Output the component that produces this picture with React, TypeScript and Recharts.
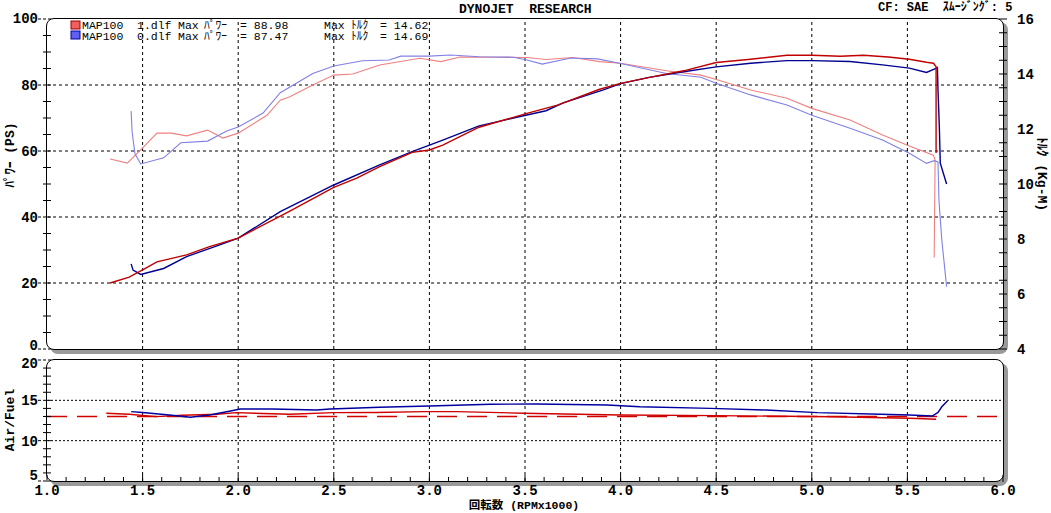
import React from "react";
import { LineChart, Line, XAxis, YAxis, ReferenceLine } from "recharts";

// ---- data (rpm x1000, value) ----
const redPower: [number, number][] = [
  [1.33, 20.0], [1.43, 21.8], [1.5, 24.0], [1.575, 26.4], [1.73, 28.5], [1.85, 31.0],
  [2.0, 33.6], [2.22, 40.3], [2.27, 41.8], [2.5, 49.0], [2.62, 51.8], [2.74, 55.3],
  [2.91, 59.6], [3.0, 60.3], [3.07, 61.8], [3.26, 67.2], [3.51, 71.4], [3.67, 73.9],
  [3.89, 78.7], [4.0, 80.5], [4.15, 82.3], [4.33, 84.3], [4.5, 86.8], [4.68, 87.8],
  [4.87, 89.0], [5.0, 89.0], [5.15, 88.7], [5.27, 89.0], [5.4, 88.5], [5.51, 87.8],
  [5.6, 86.9], [5.636, 86.6], [5.65, 85.6], [5.65, 59.4],
];

const bluePower: [number, number][] = [
  [1.44, 25.8], [1.45, 23.9], [1.49, 22.6], [1.61, 24.4], [1.73, 28.0], [1.9, 31.5],
  [2.0, 33.6], [2.22, 41.6], [2.5, 49.7], [2.74, 55.8], [2.91, 59.8], [3.07, 63.3],
  [3.26, 67.6], [3.51, 70.9], [3.61, 72.2], [3.7, 74.6], [3.91, 78.5], [4.0, 80.4],
  [4.15, 82.3], [4.33, 84.0], [4.5, 85.5], [4.68, 86.6], [4.87, 87.4], [5.0, 87.4],
  [5.2, 87.1], [5.37, 86.1], [5.51, 85.1], [5.6, 83.8], [5.64, 84.8], [5.657, 85.3],
  [5.66, 78.5], [5.667, 67.4], [5.672, 56.3], [5.705, 50.0],
];

const redTorque: [number, number][] = [
  [1.33, 10.91], [1.42, 10.76], [1.49, 11.24], [1.575, 11.85], [1.65, 11.85], [1.73, 11.75],
  [1.84, 11.96], [1.92, 11.67], [2.0, 11.85], [2.15, 12.5], [2.22, 13.05], [2.27, 13.17],
  [2.39, 13.6], [2.5, 13.96], [2.6, 14.0], [2.74, 14.33], [2.95, 14.57], [3.06, 14.45],
  [3.16, 14.62], [3.35, 14.61], [3.51, 14.6], [3.61, 14.53], [3.75, 14.6], [3.89, 14.45],
  [4.0, 14.39], [4.24, 14.12], [4.42, 13.96], [4.5, 13.8], [4.68, 13.42], [4.87, 13.12],
  [5.0, 12.75], [5.2, 12.33], [5.37, 11.78], [5.51, 11.38], [5.636, 11.05], [5.645, 10.87],
  [5.64, 7.33],
];

const blueTorque: [number, number][] = [
  [1.44, 12.65], [1.445, 11.9], [1.46, 11.1], [1.49, 10.73], [1.61, 10.95], [1.7, 11.5],
  [1.84, 11.56], [1.94, 11.93], [2.0, 12.07], [2.13, 12.58], [2.22, 13.32], [2.39, 14.02],
  [2.5, 14.29], [2.65, 14.48], [2.79, 14.51], [2.85, 14.65], [3.0, 14.65], [3.11, 14.69],
  [3.26, 14.63], [3.44, 14.61], [3.51, 14.51], [3.59, 14.36], [3.74, 14.58], [3.88, 14.55],
  [4.0, 14.38], [4.24, 14.02], [4.42, 13.88], [4.5, 13.66], [4.68, 13.24], [4.87, 12.87],
  [5.0, 12.5], [5.2, 12.03], [5.37, 11.6], [5.51, 11.12], [5.6, 10.75], [5.64, 10.85],
  [5.66, 10.8], [5.665, 9.4], [5.68, 7.96], [5.705, 6.27],
];

const redAirFuel: [number, number][] = [
  [1.31, 13.4], [1.43, 13.27], [1.57, 12.98], [1.71, 13.15], [1.89, 13.27], [1.99, 13.47],
  [2.27, 13.27], [2.5, 13.47], [2.72, 13.5], [2.97, 13.6], [3.14, 13.6], [3.37, 13.47],
  [3.49, 13.4], [4.0, 13.18], [4.5, 13.1], [5.11, 12.97], [5.51, 12.77], [5.55, 12.75],
  [5.65, 12.65],
];

const blueAirFuel: [number, number][] = [
  [1.44, 13.6], [1.5, 13.5], [1.64, 13.18], [1.75, 12.9], [1.85, 13.18], [1.96, 13.68],
  [2.01, 13.93], [2.18, 13.93], [2.41, 13.8], [2.48, 13.93], [2.74, 14.14], [3.0, 14.3],
  [3.32, 14.51], [3.56, 14.55], [3.93, 14.42], [4.1, 14.2], [4.47, 14.0], [4.76, 13.8],
  [5.03, 13.47], [5.36, 13.27], [5.51, 13.18], [5.63, 13.06], [5.66, 13.5], [5.68, 14.2],
  [5.71, 14.96],
];

const AF_TARGET = 13;

// ---- axes ----
const rpmGrid = [1.5, 2.0, 2.5, 3.0, 3.5, 4.0, 4.5, 5.0, 5.5];
const rpmLabels = [1.0, 1.5, 2.0, 2.5, 3.0, 3.5, 4.0, 4.5, 5.0, 5.5, 6.0];
const psGrid = [20, 40, 60, 80];
const psLabels = [0, 20, 40, 60, 80, 100];
const torqueLabels = [4, 6, 8, 10, 12, 14, 16];
const afGrid = [10, 15];
const afLabels = [5, 10, 15, 20];

const stepTicks = (from: number, to: number, step: number) => {
  const out: number[] = [];
  for (let v = from; v <= to + 1e-9; v += step) out.push(Math.round(v * 100) / 100);
  return out;
};
const psTicks = stepTicks(0, 100, 5);
const torqueTicks = stepTicks(4, 16, 0.5);
const afTicks = stepTicks(5, 20, 1);
const rpmTicks = stepTicks(1, 6, 0.1);

const toPts = (arr: [number, number][]) => arr.map(([rpm, v]) => ({ rpm, v }));

const MONO = '"Liberation Mono", "DejaVu Sans Mono", "Noto Sans CJK JP", monospace';
const LABEL_FONT = { fontFamily: MONO, fontWeight: 700, fontSize: 14, fill: "#000" } as const;

const has = (list: number[], v: number) => list.some((m) => Math.abs(m - v) < 1e-6);

// nudge keeps labels at the panel corners from running into each other
const leftTick = (majors: number[], nudge: Record<number, number> = {}) => (props: any) => {
  const { x, y, payload } = props;
  const major = has(majors, payload.value);
  const dy = nudge[payload.value] ?? 1;
  return (
    <g>
      {major ? (
        <line x1={x - 9} x2={x + 4} y1={y} y2={y} stroke="#000" strokeDasharray="3 2" />
      ) : (
        <line x1={x - 4} x2={x + 4} y1={y} y2={y} stroke="#000" />
      )}
      {major && (
        <text x={x - 9} y={y + dy} textAnchor="end" dominantBaseline="central" {...LABEL_FONT}>
          {payload.value}
        </text>
      )}
    </g>
  );
};

const rightTick = (majors: number[]) => (props: any) => {
  const { x, y, payload } = props;
  const major = has(majors, payload.value);
  return (
    <g>
      <line x1={x - 4} x2={x + 4} y1={y} y2={y} stroke="#000" />
      {major && (
        <text x={x + 14} y={y + 1} textAnchor="start" dominantBaseline="central" {...LABEL_FONT}>
          {payload.value}
        </text>
      )}
    </g>
  );
};

const bottomTick = (props: any) => {
  const { x, y, payload } = props;
  const major = has(rpmLabels, payload.value);
  return (
    <g>
      <line x1={x} x2={x} y1={y - (major ? 6 : 4)} y2={y + 1} stroke="#000" />
      {major && (
        <text x={x} y={y + 10} textAnchor="middle" dominantBaseline="central" {...LABEL_FONT}>
          {payload.value.toFixed(1)}
        </text>
      )}
    </g>
  );
};

const frame = (top: number, height: number): React.CSSProperties => ({
  position: "absolute",
  left: 46,
  top,
  width: 958,
  height,
  boxSizing: "border-box",
  border: "1px solid #000",
  borderRadius: 8,
  boxShadow: "4px 4px 0 #9a9a9a",
  background: "#fff",
});

const lineProps = { type: "linear" as const, dataKey: "v", dot: false, activeDot: false, isAnimationActive: false };
const pre: React.CSSProperties = { whiteSpace: "pre" };

export default function App() {
  return (
    <div style={{ position: "absolute", left: 0, top: 0, width: 1051, height: 513, background: "#fff", overflow: "hidden" }}>
      <div style={frame(18, 332)} />
      <div style={frame(359, 123)} />

      <div style={{ position: "absolute", left: 0, top: 0 }}>
        <LineChart width={1051} height={360} margin={{ top: 19, right: 8, bottom: 11, left: 7 }}>
          <XAxis type="number" dataKey="rpm" domain={[1, 6]} hide allowDataOverflow />
          <YAxis
            yAxisId="ps"
            type="number"
            domain={[0, 100]}
            ticks={psTicks}
            interval={0}
            width={40}
            axisLine={false}
            tickLine={false}
            tickSize={0}
            tickMargin={0}
            tick={leftTick(psLabels, { 0: -3, 100: 0 })}
          />
          <YAxis
            yAxisId="tq"
            orientation="right"
            type="number"
            domain={[4, 16]}
            ticks={torqueTicks}
            interval={0}
            width={40}
            axisLine={false}
            tickLine={false}
            tickSize={0}
            tickMargin={0}
            tick={rightTick(torqueLabels)}
          />
          {rpmGrid.map((r) => (
            <ReferenceLine key={`x${r}`} yAxisId="ps" x={r} stroke="#000" strokeDasharray="3 3" />
          ))}
          {psGrid.map((p) => (
            <ReferenceLine key={`y${p}`} yAxisId="ps" y={p} stroke="#000" strokeDasharray="3 3" />
          ))}
          <Line {...lineProps} yAxisId="tq" data={toPts(redTorque)} stroke="#f08080" strokeWidth={1.1} />
          <Line {...lineProps} yAxisId="tq" data={toPts(blueTorque)} stroke="#8080e6" strokeWidth={1.1} />
          <Line {...lineProps} yAxisId="ps" data={toPts(bluePower)} stroke="#000090" strokeWidth={1.4} />
          <Line {...lineProps} yAxisId="ps" data={toPts(redPower)} stroke="#c00000" strokeWidth={1.4} />
        </LineChart>
      </div>

      <div style={{ position: "absolute", left: 0, top: 350 }}>
        <LineChart width={1051} height={163} margin={{ top: 10, right: 48, bottom: 12, left: 7 }}>
          <XAxis
            type="number"
            dataKey="rpm"
            domain={[1, 6]}
            ticks={rpmTicks}
            interval={0}
            height={20}
            axisLine={false}
            tickLine={false}
            tickSize={0}
            tickMargin={0}
            tick={bottomTick}
            allowDataOverflow
          />
          <YAxis
            yAxisId="af"
            type="number"
            domain={[5, 20]}
            ticks={afTicks}
            interval={0}
            width={40}
            axisLine={false}
            tickLine={false}
            tickSize={0}
            tickMargin={0}
            tick={leftTick(afLabels, { 20: 4, 5: -5 })}
          />
          {rpmGrid.map((r) => (
            <ReferenceLine key={`ax${r}`} yAxisId="af" x={r} stroke="#000" strokeDasharray="3 3" />
          ))}
          {afGrid.map((a) => (
            <ReferenceLine key={`ay${a}`} yAxisId="af" y={a} stroke="#000" strokeDasharray="2 2" />
          ))}
          <ReferenceLine yAxisId="af" y={AF_TARGET} stroke="#d00000" strokeWidth={1.5} strokeDasharray="20 10" />
          <Line {...lineProps} yAxisId="af" data={toPts(redAirFuel)} stroke="#d00000" strokeWidth={1.4} />
          <Line {...lineProps} yAxisId="af" data={toPts(blueAirFuel)} stroke="#0000a0" strokeWidth={1.4} />
        </LineChart>
      </div>

      <svg width={1051} height={513} style={{ position: "absolute", left: 0, top: 0, pointerEvents: "none" }}>
        <text x={459} y={13} fontFamily={MONO} fontWeight={700} fontSize={13} style={pre}>
          {"DYNOJET  RESEARCH"}
        </text>
        <text x={878} y={11} fontFamily={MONO} fontWeight={700} fontSize={12} style={pre}>
          {"CF: SAE  ｽﾑｰｼﾞﾝｸﾞ: 5"}
        </text>

        <rect x={71} y={21} width={9} height={8} fill="#f06060" stroke="#a00000" />
        <rect x={71} y={31} width={9} height={8} fill="#6060f0" stroke="#0000a0" />
        <g fontFamily={MONO} fontSize={11.5} fill="#000">
          <text x={82} y={29}>MAP100</text>
          <text x={137} y={29}>1.dlf</text>
          <text x={178} y={29}>Max</text>
          <text x={204} y={29}>ﾊﾟﾜｰ</text>
          <text x={240} y={29}>= 88.98</text>
          <text x={324} y={29}>Max</text>
          <text x={351} y={29}>ﾄﾙｸ</text>
          <text x={380} y={29}>= 14.62</text>
          <text x={82} y={40}>MAP100</text>
          <text x={137} y={40}>0.dlf</text>
          <text x={178} y={40}>Max</text>
          <text x={204} y={40}>ﾊﾟﾜｰ</text>
          <text x={240} y={40}>= 87.47</text>
          <text x={324} y={40}>Max</text>
          <text x={351} y={40}>ﾄﾙｸ</text>
          <text x={380} y={40}>= 14.69</text>
        </g>

        <text
          x={0}
          y={0}
          transform="translate(14,155) rotate(-90)"
          textAnchor="middle"
          fontFamily={MONO}
          fontWeight={700}
          fontSize={13}
        >
          ﾊﾟﾜｰ (PS)
        </text>
        <text
          x={0}
          y={0}
          transform="translate(1038,174) rotate(90)"
          textAnchor="middle"
          fontFamily={MONO}
          fontWeight={700}
          fontSize={13}
        >
          ﾄﾙｸ (Kg-M)
        </text>
        <text
          x={0}
          y={0}
          transform="translate(14,420) rotate(-90)"
          textAnchor="middle"
          fontFamily={MONO}
          fontWeight={700}
          fontSize={13}
        >
          Air/Fuel
        </text>
        <text x={524} y={509} textAnchor="middle" fontFamily={MONO} fontWeight={700} fontSize={11.5}>
          回転数 (RPMx1000)
        </text>
      </svg>
    </div>
  );
}
